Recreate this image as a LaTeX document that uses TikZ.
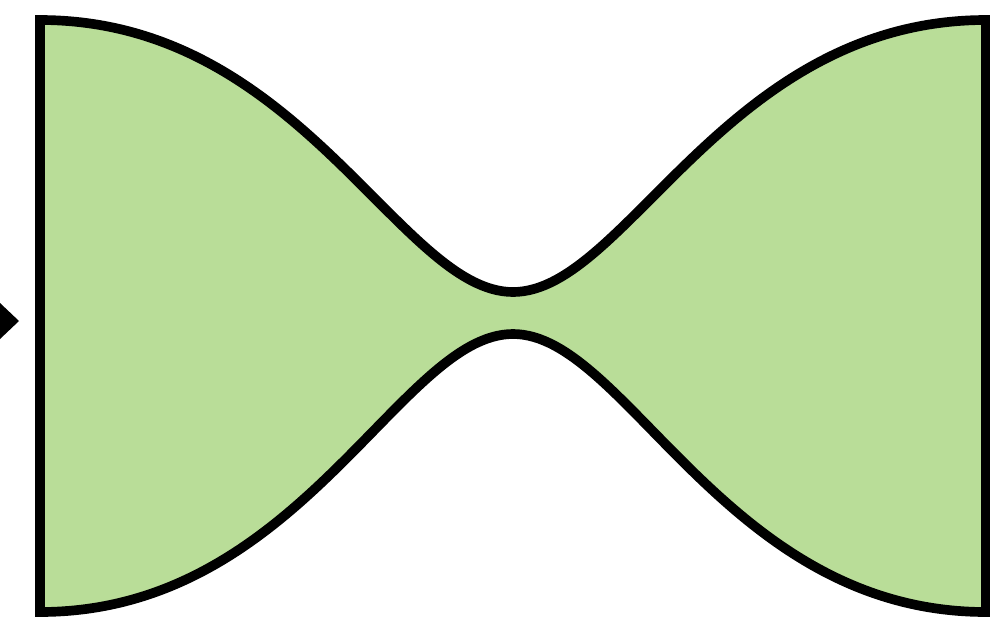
\documentclass[tikz,border=0pt]{standalone}
\usepackage{tikz}
\usetikzlibrary{calc}
\definecolor{NeckFill}{HTML}{B9DD98}

\begin{document}
\begin{tikzpicture}[x=0.02cm,y=-0.02cm]
  \useasboundingbox (0,0) rectangle (990,626);
  % bow-tie channel with narrow neck
  \filldraw[fill=NeckFill,draw=black,line width=5.5pt]
    (40,20) .. controls (300,20) and (400,292) .. (513,292)
            .. controls (626,292) and (726,20) .. (986,20)
    -- (986,612)
            .. controls (726,612) and (626,334) .. (513,334)
            .. controls (400,334) and (300,612) .. (40,612)
    -- cycle;
  % incoming arrow tip
  \fill[black] (0,303) -- (19,321) -- (0,339) -- cycle;
\end{tikzpicture}
\end{document}
